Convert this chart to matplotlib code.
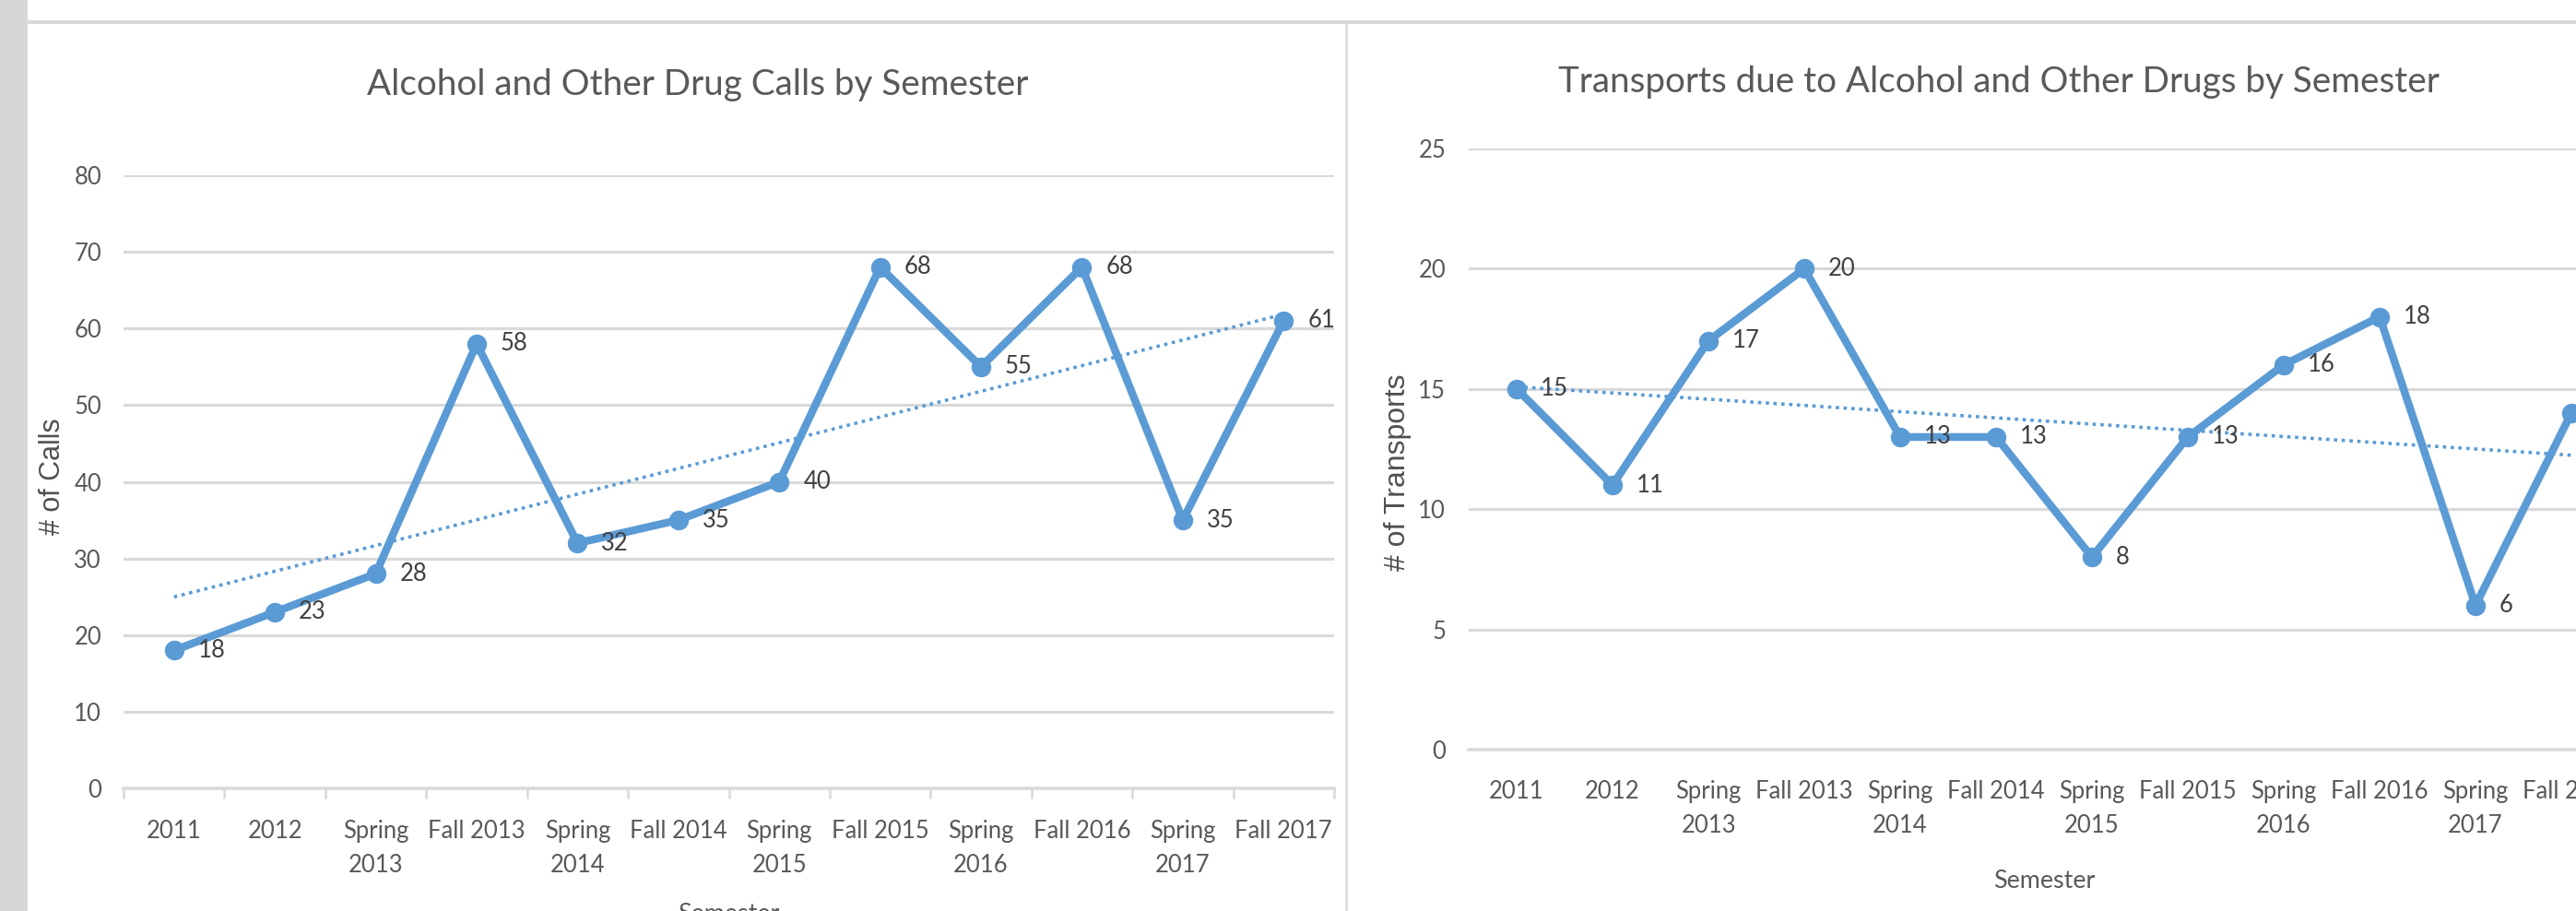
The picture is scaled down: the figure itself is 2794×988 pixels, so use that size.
import numpy as np
import matplotlib
matplotlib.use("Agg")
import matplotlib.pyplot as plt
import matplotlib.font_manager as fm
from matplotlib.lines import Line2D
from matplotlib.patches import Rectangle

# ---------------- data ----------------
semesters = ["2011", "2012", "Spring\n2013", "Fall 2013", "Spring\n2014", "Fall 2014",
             "Spring\n2015", "Fall 2015", "Spring\n2016", "Fall 2016", "Spring\n2017", "Fall 2017"]
calls = [18, 23, 28, 58, 32, 35, 40, 68, 55, 68, 35, 61]
transports = [15, 11, 17, 20, 13, 13, 8, 13, 16, 18, 6, 14]
calls_ticks = [0, 10, 20, 30, 40, 50, 60, 70, 80]
transports_ticks = [0, 5, 10, 15, 20, 25]
title_calls = "Alcohol and Other Drug Calls by Semester"
title_transports = "Transports due to Alcohol and Other Drugs by Semester"
ylabel_calls = "# of Calls"
ylabel_transports = "# of Transports"
xlabel = "Semester"

# ---------------- fonts ----------------
avail = {f.name for f in fm.fontManager.ttflist}
if "Liberation Sans Narrow" in avail:
    NARROW = "Liberation Sans Narrow"
    S = 1.0
    ST = 1.0
else:
    NARROW = "Lato"
    S = 0.88
    ST = 0.85
REG = "Liberation Sans" if "Liberation Sans" in avail else "DejaVu Sans"

W, H = 2794, 988
DPI = 100
fig = plt.figure(figsize=(W / DPI, H / DPI), dpi=DPI)
fig.patch.set_facecolor("white")

def fx(px):
    return px / W

def fy(py):
    return 1 - py / H

def pt(px):
    return px * 72.0 / DPI

BLUE = "#5B9BD5"
GRID = "#D9D9D9"
TXT = "#595959"
LBL = "#404040"

TICK_FS = 21 * S
TITLE_FS = 32.7 * ST

# ---------------- frame decorations ----------------
fig.patches.append(Rectangle((0, 0), fx(30), 1, transform=fig.transFigure,
                             facecolor="#D6D6D6", edgecolor="none", zorder=0))
fig.lines.append(Line2D([fx(30), 1], [fy(23.7), fy(23.7)], transform=fig.transFigure,
                        color=GRID, lw=pt(4), zorder=1))
fig.lines.append(Line2D([fx(1460), fx(1460)], [0, fy(23.7)], transform=fig.transFigure,
                        color=GRID, lw=pt(2.5), zorder=1))


def make_panel(rect, values, yticks, ymax, minor_ticks, ytick_pad_px, xpad_pt):
    ax = fig.add_axes(rect)
    x = np.arange(len(values))
    ax.set_xlim(-0.5, len(values) - 0.5)
    ax.set_ylim(0, ymax)
    for s in ["top", "right", "left"]:
        ax.spines[s].set_visible(False)
    ax.spines["bottom"].set_color(GRID)
    ax.spines["bottom"].set_linewidth(pt(3.5))
    ax.set_yticks(yticks)
    ax.set_yticklabels([str(t) for t in yticks])
    ax.yaxis.grid(True, color=GRID, lw=pt(3.2))
    ax.set_axisbelow(True)
    ax.tick_params(axis="y", length=0, pad=pt(ytick_pad_px), labelsize=TICK_FS,
                   labelcolor=TXT)
    ax.set_xticks(x)
    ax.set_xticklabels(semesters, linespacing=1.62)
    ax.tick_params(axis="x", which="major", length=0, pad=xpad_pt, labelsize=TICK_FS,
                   labelcolor=TXT)
    if minor_ticks:
        ax.set_xticks(np.arange(-0.5, len(values), 1), minor=True)
        ax.tick_params(axis="x", which="minor", length=pt(11), width=pt(2.5), color=GRID)
    for lab in ax.get_xticklabels() + ax.get_yticklabels():
        lab.set_fontfamily(NARROW)
    # trend line (least squares, as Excel's linear trendline)
    coef = np.polyfit(x, values, 1)
    ax.plot(x, np.polyval(coef, x), color=BLUE, lw=pt(3.6),
            linestyle=(0, (1, 1.35)), zorder=2)
    ax.plot(x, values, color=BLUE, lw=pt(8.5), marker="o", ms=pt(20),
            solid_joinstyle="round", zorder=3, clip_on=False)
    for xi, v in zip(x, values):
        ax.annotate(str(v), (xi, v), xytext=(pt(26), 0), textcoords="offset points",
                    ha="left", va="center", fontsize=TICK_FS, color=LBL,
                    family=NARROW, zorder=4)
    return ax

# left panel: x 134..1447, y 190..855
ax1 = make_panel([fx(134), fy(855), fx(1447) - fx(134), fy(190) - fy(855)],
                 calls, calls_ticks, 80, True, 24, pt(34))
# right panel: x 1593..2841 (cut by the image edge), y 161..813
ax2 = make_panel([fx(1593), fy(813), fx(2841) - fx(1593), fy(161) - fy(813)],
                 transports, transports_ticks, 25, False, 25, pt(33))

# titles
fig.text(fx(757), fy(103), title_calls, ha="center", va="baseline",
         fontsize=TITLE_FS, color=TXT, family=NARROW)
fig.text(fx(2168), fy(100), title_transports, ha="center", va="baseline",
         fontsize=TITLE_FS, color=TXT, family=NARROW)

# axis titles
fig.text(fx(57), fy(517), ylabel_calls, rotation=90, ha="center", va="center",
         fontsize=22, color="#505050", family=REG)
fig.text(fx(1516), fy(512), ylabel_transports, rotation=90, ha="center", va="center",
         fontsize=23, color="#505050", family=REG)
fig.text(fx(790), fy(999), xlabel, ha="center", va="baseline",
         fontsize=22 * S, color=TXT, family=NARROW)
fig.text(fx(2217), fy(963), xlabel, ha="center", va="baseline",
         fontsize=22 * S, color=TXT, family=NARROW)

fig.savefig("out.png", dpi=DPI, facecolor="white")
